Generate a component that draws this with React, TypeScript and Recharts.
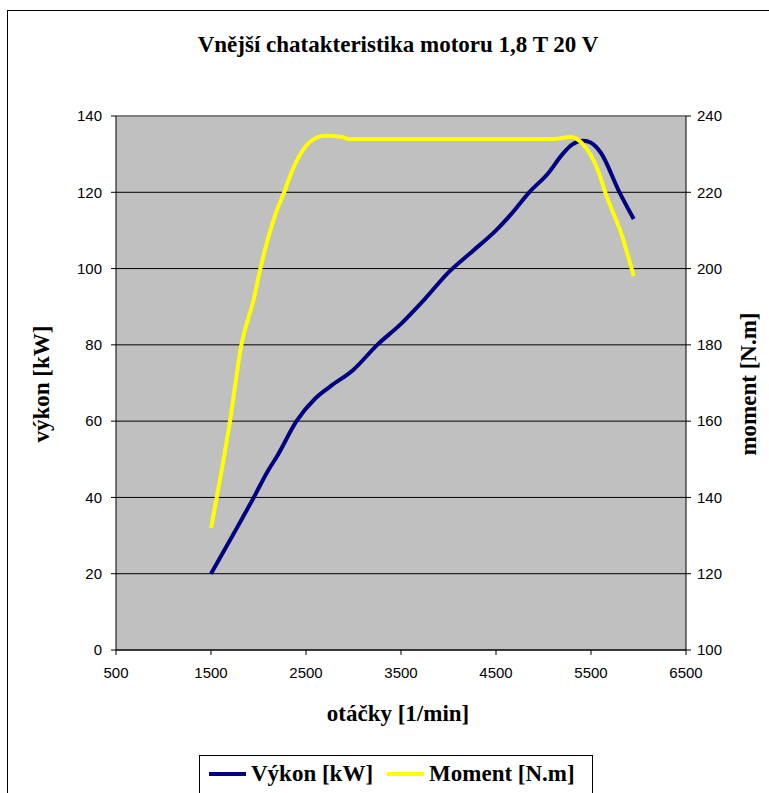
import React from "react"
import { LineChart, Line, XAxis, YAxis, CartesianGrid, ReferenceLine } from "recharts"

// otáčky [1/min] a výkon [kW]
const vykonRpm = [1500, 1750, 1950, 2100, 2200, 2400, 2600, 2750, 3000, 3250, 3500, 3750, 4000, 4250, 4500, 4650, 4850, 5050, 5200, 5300, 5420, 5500, 5600, 5800, 5950]
const vykonKw = [20, 31, 40, 47, 51, 60, 66, 69, 73.5, 80, 85.5, 92, 99, 104.5, 110, 114, 120, 125, 130, 132.5, 133.5, 133, 130.5, 120, 113]

// otáčky [1/min] a moment [N.m]
const momentRpm = [1500, 1700, 1820, 1950, 2020, 2170, 2270, 2360, 2540, 2700, 2880, 2940, 5100, 5290, 5400, 5580, 5650, 5830, 5950]
const momentNm = [132, 160, 180, 192, 200, 213.6, 220, 226, 233.2, 234.8, 234.5, 234, 234, 234.5, 233, 225.3, 220, 208.3, 198]

const xTicks = [500, 1500, 2500, 3500, 4500, 5500, 6500]
const leftTicks = [0, 20, 40, 60, 80, 100, 120, 140]
const rightTicks = [100, 120, 140, 160, 180, 200, 220, 240]

const vykonData = vykonRpm.map((r, i) => ({ rpm: r, vykon: vykonKw[i] }))
const momentData = momentRpm.map((r, i) => ({ rpm: r, moment: momentNm[i] }))

const serif = '"Liberation Serif", "Times New Roman", serif'
const sans = '"Liberation Sans", Arial, sans-serif'
const tickStyle = { fontFamily: sans, fontSize: 15, fill: "#000" }
const bigText = { fontFamily: serif, fontWeight: "bold" as const, fontSize: 23, whiteSpace: "nowrap" as const }

export default function App() {
  return (
    <div style={{ position: "absolute", left: 0, top: 0, width: 769, height: 793, overflow: "hidden", background: "#fff" }}>
      <div style={{ position: "absolute", left: 7, top: 10, width: 800, height: 820, border: "1px solid #000" }} />
      <div style={{ position: "absolute", left: 0, top: 0 }}>
        <LineChart width={769} height={793} margin={{ top: 116, right: 82, bottom: 142, left: 115 }}>
          <CartesianGrid yAxisId="left" vertical={false} fill="#C0C0C0" stroke="#000" strokeOpacity={1} />
          <XAxis
            dataKey="rpm"
            type="number"
            domain={[500, 6500]}
            ticks={xTicks}
            height={1}
            tickSize={5}
            tickMargin={12}
            stroke="#000"
            tick={tickStyle}
            allowDataOverflow
          />
          <YAxis
            yAxisId="left"
            domain={[0, 140]}
            ticks={leftTicks}
            width={1}
            tickSize={5}
            tickMargin={9}
            stroke="#000"
            tick={tickStyle}
          />
          <YAxis
            yAxisId="right"
            orientation="right"
            domain={[100, 240]}
            ticks={rightTicks}
            width={1}
            tickSize={5}
            tickMargin={6}
            stroke="#000"
            tick={tickStyle}
          />
          <ReferenceLine yAxisId="left" y={140} stroke="#808080" strokeWidth={2} />
          <Line
            yAxisId="left"
            data={vykonData}
            dataKey="vykon"
            type="monotone"
            stroke="#000080"
            strokeWidth={4}
            dot={false}
            isAnimationActive={false}
          />
          <Line
            yAxisId="right"
            data={momentData}
            dataKey="moment"
            type="monotone"
            stroke="#FFFF00"
            strokeWidth={4}
            dot={false}
            isAnimationActive={false}
          />
        </LineChart>
      </div>

      <div style={{ ...bigText, position: "absolute", left: 0, width: 796, top: 32, textAlign: "center" }}>
        Vnější chatakteristika motoru 1,8 T 20 V
      </div>
      <div style={{ ...bigText, position: "absolute", left: 0, width: 796, top: 701, textAlign: "center" }}>
        otáčky [1/min]
      </div>
      <div style={{ ...bigText, position: "absolute", left: 42, top: 384, transform: "translate(-50%, -50%) rotate(-90deg)" }}>
        výkon [kW]
      </div>
      <div style={{ ...bigText, position: "absolute", left: 749, top: 384, transform: "translate(-50%, -50%) rotate(-90deg)" }}>
        moment [N.m]
      </div>

      <div style={{ position: "absolute", left: 199, top: 755, width: 394, height: 60, border: "1px solid #000", background: "#fff", boxSizing: "border-box" }}>
        <div style={{ ...bigText, position: "absolute", top: 5, left: 9, display: "flex", alignItems: "center" }}>
          <span style={{ display: "inline-block", width: 37, height: 4, background: "#000080", marginRight: 5 }} />
          <span>Výkon [kW]</span>
          <span style={{ display: "inline-block", width: 37, height: 4, background: "#FFFF00", marginLeft: 14, marginRight: 5 }} />
          <span>Moment [N.m]</span>
        </div>
      </div>
    </div>
  )
}
